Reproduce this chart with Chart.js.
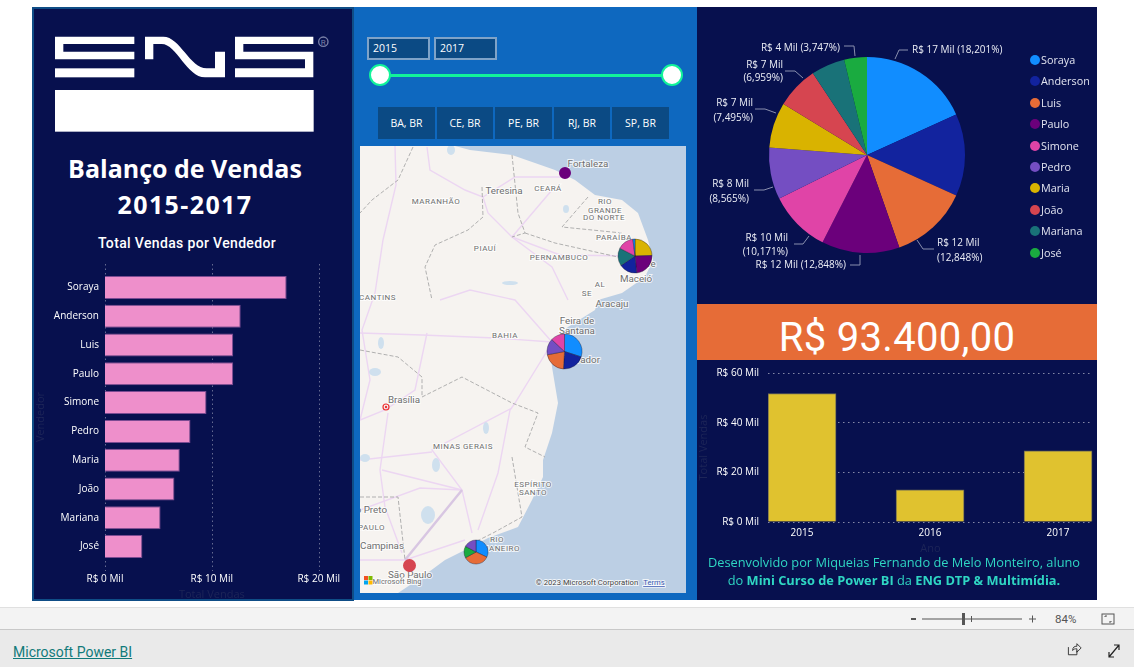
<!DOCTYPE html>
<html lang="pt-BR">
<head>
<meta charset="UTF-8">
<title>Balanço de Vendas 2015-2017</title>
<script src="https://cdn.jsdelivr.net/npm/chart.js"></script>
<style>
  html, body { margin: 0; padding: 0; background: #fff; overflow: hidden; }
  body { width: 1134px; height: 667px; position: relative; font-family: "Open Sans", sans-serif; }
  .abs, canvas.abs { position: absolute; }
  .panel { position: absolute; top: 7px; height: 593px; }
  #pLeft { left: 32px; width: 318px; background: #07104e; border: 2px solid #0f4d86; height: 590px; }
  #pMid { left: 354px; width: 343px; background: #0e68bf; }
  #pRight { left: 697px; width: 400px; background: #07104e; }
  .title { left: 32px; width: 306px; text-align: center; color: #fff; font-weight: 700; font-size: 25px; }
  .sub { left: 32px; width: 310px; top: 235px; text-align: center; color: #fff; font: 500 14px Roboto; letter-spacing: .35px; }
  .yearBox { top: 37px; width: 59px; height: 19px; background: #0b4a84; border: 2px solid #7fa3c8; color: #fff; font-size: 10.5px; font-weight: 400; line-height: 19px; text-indent: 4px; }
  .state { top: 107px; height: 32px; background: #0b4a84; color: #fff; font-size: 10.5px; line-height: 32px; text-align: center; font-weight: 400; }
  .handle { top: 64px; width: 18px; height: 18px; border-radius: 50%; background: #fff; border: 2px solid #12f39a; }
  #map { left: 360px; top: 146px; }
  #kpi { left: 697px; top: 304px; width: 400px; height: 56px; background: #e66c37; color: #fff; font: 400 40px/68px Roboto; text-align: center; letter-spacing: .3px; }
  #legend { left: 1030px; top: 49px; color: #e2e4f0; font-size: 10.8px; }
  #legend div { height: 21.4px; line-height: 21.4px; white-space: nowrap; }
  #legend i { display: inline-block; width: 10px; height: 10px; border-radius: 50%; margin-right: 1px; vertical-align: -1px; }
  #credit { left: 697px; top: 554px; width: 394px; text-align: center; color: #2fd6c3; font-size: 12.8px; line-height: 17.5px; }
  #credit b { font-weight: 700; }
  #bar1 { left: 0; top: 607px; width: 1134px; height: 23px; background: #f3f3f3; border-top: 1px solid #e0e0e0; border-bottom: 1px solid #c8c8c8; box-sizing: border-box; }
  #bar2 { left: 0; top: 630px; width: 1134px; height: 37px; background: #eaeaea; }
  #pbi { left: 13px; top: 644px; font: 400 14px Roboto; color: #117a7a; text-decoration: underline; }
  .mapT { font-family: Roboto; fill: #6f6f6f; paint-order: stroke; stroke: rgba(255,255,255,.75); stroke-width: 2px; text-anchor: middle; }
  .st { font-size: 8px; letter-spacing: .5px; }
  .ct { font-size: 9.8px; }
</style>
</head>
<body>
<div class="panel" id="pLeft"></div>
<div class="panel" id="pMid"></div>
<div class="panel" id="pRight"></div>

<svg class="abs" style="left:30px;top:0" width="330" height="140" viewBox="0 0 990 420">
  <g fill="#fff">
    <path d="M75 110H313V132H100V155H313V178H75Z"/>
    <rect x="75" y="205" width="238" height="27"/>
    <path d="M345 178V110H400C450 110 480 205 530 205H555V155H585V232H525C470 232 440 132 395 132H370V178Z"/>
    <path d="M615 110H850V132H640V155H850V232H615V205H825V178H615Z"/>
    <rect x="75" y="270" width="776" height="125"/>
  </g>
  <circle cx="880" cy="125" r="14" fill="none" stroke="#7a80a8" stroke-width="4"/>
  <text x="880" y="134" font-size="24" fill="#7a80a8" text-anchor="middle" font-family="Roboto">R</text>
</svg>
<div class="abs title" style="top:151px">Balanço de Vendas</div>
<div class="abs title" style="top:187px;letter-spacing:1.4px">2015-2017</div>
<div class="abs sub">Total Vendas por Vendedor</div>
<canvas class="abs" id="vendedorChart" width="318" height="346" style="left:34px;top:255px"></canvas>

<div class="abs yearBox" style="left:367px">2015</div>
<div class="abs yearBox" style="left:434px">2017</div>
<div class="abs" style="left:380px;top:74px;width:292px;height:3px;background:#12f39a"></div>
<div class="abs handle" style="left:369px"></div>
<div class="abs handle" style="left:661px"></div>
<div class="abs state" style="left:378px;width:57px">BA, BR</div>
<div class="abs state" style="left:437px;width:56px">CE, BR</div>
<div class="abs state" style="left:495px;width:57px">PE, BR</div>
<div class="abs state" style="left:554px;width:56px">RJ, BR</div>
<div class="abs state" style="left:612px;width:57px">SP, BR</div>

<svg class="abs" id="map" width="326" height="447" viewBox="360 146 326 447">
  <rect x="360" y="146" width="326" height="447" fill="#bccfe4"/>
  <path fill="#f6f3f0" d="M360 146H455L470 150L512 155L535 163L555 170L575 180L595 195L622 200L638 213L648 240L653 260L645 277L622 293L598 300L595 310L568 327L550 343L552 367L558 403L552 433L543 460L543 477L532 500L518 527L488 538L465 550L445 560L422 577L398 593H360Z"/>
  <g fill="none" stroke="#ecd6f2" stroke-width="1.4">
    <path d="M395 146L396 185L383 240L375 293"/>
    <path d="M427 147L430 170L465 190L483 197L488 213L512 237L552 267L568 300"/>
    <path d="M562 177H515L483 197"/>
    <path d="M552 190L512 237L560 255L634 256"/>
    <path d="M360 333L422 335L495 338L552 342"/>
    <path d="M427 333L415 390L385 410L360 420"/>
    <path d="M388 413L380 470L385 507L402 553"/>
    <path d="M552 343L515 403L510 410L498 473L478 530"/>
    <path d="M512 408L432 450L462 490L472 533"/>
    <path d="M360 460L432 452"/>
    <path d="M382 470L462 490"/>
    <path d="M360 510L420 488L462 490"/>
    <path d="M360 560L405 560L465 540"/>
    <path d="M375 293L362 330L370 380L360 420"/>
    <path d="M440 300L470 290L515 300L552 342"/>
    <path d="M462 490L405 560" stroke="#d8c6e2" stroke-width="2.4"/>
  </g>
  <g fill="none" stroke="#a8a8a8" stroke-width=".9" stroke-dasharray="4 2">
    <path d="M413 147L398 180L372 200L360 213"/>
    <path d="M512 155L518 213L525 233L512 237"/>
    <path d="M482 187L483 217L468 230L435 245L425 267L432 300"/>
    <path d="M525 233L555 243L618 257"/>
    <path d="M588 197L562 227L622 233"/>
    <path d="M422 397L462 377L512 403L538 413L525 447L545 457"/>
    <path d="M512 457L522 517L493 533L465 547"/>
    <path d="M360 497H398L405 560"/>
    <path d="M360 350L398 357L422 377L422 397"/>
  </g>
  <g fill="#cfe0ee">
    <ellipse cx="451" cy="150" rx="4" ry="5"/><ellipse cx="381" cy="343" rx="3" ry="6"/><ellipse cx="375" cy="372" rx="6" ry="4"/>
    <ellipse cx="436" cy="465" rx="4" ry="7"/><ellipse cx="428" cy="515" rx="7" ry="9"/><ellipse cx="486" cy="428" rx="3" ry="6"/>
    <ellipse cx="365" cy="458" rx="5" ry="4"/><ellipse cx="566" cy="209" rx="3" ry="4"/><ellipse cx="510" cy="283" rx="8" ry="2"/>
  </g>
  <circle cx="386" cy="407" r="3" fill="none" stroke="#e33" stroke-width="1.2"/><circle cx="386" cy="407" r="1.2" fill="#e33"/>
  <g class="mapT">
    <text class="mapT ct" x="588" y="167">Fortaleza</text>
    <text class="mapT ct" x="504" y="194">Teresina</text>
    <text class="mapT st" x="548" y="191">CEARÁ</text>
    <text class="mapT st" x="436" y="204">MARANHÃO</text>
    <text class="mapT st" x="605" y="204">RIO</text>
    <text class="mapT st" x="605" y="213">GRANDE</text>
    <text class="mapT st" x="604" y="220">DO NORTE</text>
    <text class="mapT st" x="485" y="251">PIAUÍ</text>
    <text class="mapT st" x="614" y="240">PARAÍBA</text>
    <text class="mapT st" x="559" y="260">PERNAMBUCO</text>
    <text class="mapT ct" x="642" y="267">Recife</text>
    <text class="mapT ct" x="636" y="282">Maceió</text>
    <text class="mapT st" x="600" y="287">AL</text>
    <text class="mapT st" x="587" y="296">SE</text>
    <text class="mapT st" x="372" y="300">TOCANTINS</text>
    <text class="mapT ct" x="612" y="307">Aracaju</text>
    <text class="mapT ct" x="577" y="324">Feira de</text>
    <text class="mapT ct" x="577" y="334">Santana</text>
    <text class="mapT st" x="505" y="338">BAHIA</text>
    <text class="mapT ct" x="581" y="363">Salvador</text>
    <text class="mapT ct" x="404" y="403">Brasília</text>
    <text class="mapT st" x="463" y="449">MINAS GERAIS</text>
    <text class="mapT st" x="533" y="487">ESPÍRITO</text>
    <text class="mapT st" x="533" y="495">SANTO</text>
    <text class="mapT ct" x="387" y="513" style="text-anchor:end">São José do Rio Preto</text>
    <text class="mapT st" x="385" y="530" style="text-anchor:end">SÃO PAULO</text>
    <text class="mapT ct" x="382" y="549">Campinas</text>
    <text class="mapT st" x="497" y="542">RIO</text>
    <text class="mapT st" x="520" y="551" style="text-anchor:end">DE JANEIRO</text>
    <text class="mapT ct" x="410" y="578">São Paulo</text>
    <text class="mapT" x="397" y="584" style="font-size:7.5px">Microsoft Bing</text>
    <text class="mapT" x="587" y="585" style="font-size:7.7px;fill:#444">© 2023 Microsoft Corporation</text>
    <text class="mapT" x="654" y="585" style="font-size:7.7px;fill:#3a58b0;text-decoration:underline">Terms</text>
  </g>
  <rect x="364" y="576" width="4" height="4" fill="#f25022"/><rect x="368.500" y="576" width="4" height="4" fill="#7fba00"/>
  <rect x="364" y="580.500" width="4" height="4" fill="#00a4ef"/><rect x="368.500" y="580.500" width="4" height="4" fill="#ffb900"/>
</svg>
<canvas class="abs" id="mapChart" width="326" height="447" style="left:360px;top:146px"></canvas>

<canvas class="abs" id="pieChart" width="340" height="260" style="left:697px;top:25px"></canvas>
<div class="abs" id="legend"></div>
<div class="abs" id="kpi">R$ 93.400,00</div>
<canvas class="abs" id="anoChart" width="400" height="197" style="left:697px;top:358px"></canvas>
<div class="abs" id="credit">Desenvolvido por Miqueias Fernando de Melo Monteiro, aluno<br>do <b>Mini Curso de Power BI</b> da <b>ENG DTP &amp; Multimídia.</b></div>

<div class="abs" id="bar1"></div>
<div class="abs" id="bar2"></div>
<div class="abs" id="pbi">Microsoft Power BI</div>
<svg class="abs" style="left:905px;top:610px" width="220" height="18">
  <rect x="6" y="8" width="5" height="2" fill="#555"/>
  <rect x="17" y="8.500" width="100" height="1" fill="#555"/>
  <rect x="57" y="3" width="3" height="12" fill="#555"/>
  <rect x="66" y="6" width="1" height="6" fill="#555"/>
  <path d="M124 9h7M127.500 5.500v7" stroke="#555" fill="none"/>
  <text x="150" y="13" font-family="Roboto" font-size="11.500" fill="#555">84%</text>
  <rect x="197" y="4" width="12" height="10" fill="none" stroke="#555"/>
  <path d="M200 7v-1h2M206 11v1h-2" stroke="#555" fill="none"/>
</svg>
<svg class="abs" style="left:1065px;top:642px" width="60" height="18">
  <path d="M4 6v9h10v-5M9 10c0-4 2-5 5-5V2l5 5-5 5V8c-2 0-4 0-5 2z" fill="none" stroke="#222" transform="scale(.85)"/>
  <path d="M44 15L54 3M49 3h5v5M44 10v5h5" fill="none" stroke="#222" stroke-width="1.200"/>
</svg>

<script>
const vendedores = ['Soraya', 'Anderson', 'Luis', 'Paulo', 'Simone', 'Pedro', 'Maria', 'João', 'Mariana', 'José'];
const totalVendas = [17, 12.7, 12, 12, 9.5, 8, 7, 6.5, 5.2, 3.5];
const cores = ['#118dff', '#12239e', '#e66c37', '#6b007b', '#e044a7', '#744ec2', '#d9b300', '#d64550', '#197278', '#1aab40'];

const anos = [2015, 2016, 2017];
const vendasAno = [51.7, 13, 28.7];

const cidades = ['Fortaleza', 'Recife', 'Salvador', 'Rio de Janeiro', 'São Paulo'];
const cidadeLon = [-38.5, -34.9, -38.5, -43.1, -46.5];
const cidadeLat = [-3.7, -7.99, -12.94, -23.36, -24.03];
const cidadeRaio = [6, 17, 17.5, 12, 6.5];
const fortalezaVend = ['Paulo'];
const fortalezaVal = [1];
const recifeVend = ['Maria', 'Paulo', 'Anderson', 'Mariana', 'Simone', 'Soraya'];
const recifeVal = [24.5, 24, 17, 17, 15.5, 2];
const salvadorVend = ['Soraya', 'Anderson', 'Luis', 'Pedro', 'Simone'];
const salvadorVal = [30, 21, 21, 15, 13];
const rioVend = ['Soraya', 'Luis', 'José', 'Pedro'];
const rioVal = [32, 35, 16, 17];
const spVend = ['João'];
const spVal = [1];

const fonte = '"Open Sans"';
const mil = v => 'R$ ' + v + ' Mil';
const soma = totalVendas.reduce((a, b) => a + b, 0);

// grade pontilhada um pouco maior que a area do grafico
const gradeX = {
  id: 'gradeX',
  beforeDatasetsDraw(chart) {
    const { ctx, chartArea, scales } = chart;
    ctx.save();
    ctx.strokeStyle = 'rgba(255,255,255,.38)';
    ctx.setLineDash([1.5, 3]);
    scales.x.ticks.forEach(t => {
      const px = Math.round(scales.x.getPixelForValue(t.value)) + .5;
      ctx.beginPath();
      ctx.moveTo(px, chartArea.top - 9);
      ctx.lineTo(px, chartArea.bottom + 10);
      ctx.stroke();
    });
    ctx.restore();
  }
};

new Chart(document.getElementById('vendedorChart'), {
  type: 'bar',
  data: {
    labels: vendedores,
    datasets: [{
      data: totalVendas,
      backgroundColor: '#ee8fcb',
      borderColor: '#7b4b92',
      borderWidth: 1,
      barPercentage: .8,
      categoryPercentage: 1
    }]
  },
  plugins: [gradeX],
  options: {
    indexAxis: 'y',
    responsive: false,
    animation: false,
    layout: { padding: { top: 18, right: 31 } },
    plugins: { legend: { display: false }, tooltip: { enabled: false } },
    scales: {
      x: {
        min: 0, max: 20,
        afterFit: s => { s.height = 40; },
        grid: { display: false, drawTicks: false },
        border: { display: false },
        ticks: { stepSize: 10, color: '#fff', padding: 12, maxRotation: 0, font: { family: fonte, size: 10 }, callback: mil },
        title: { display: true, text: 'Total Vendas', color: '#1d2558', padding: 0, font: { family: fonte, size: 11 } }
      },
      y: {
        afterFit: s => { s.width = 71; },
        grid: { display: false, drawTicks: false },
        border: { display: false },
        ticks: { color: '#fff', padding: 6, autoSkip: false, font: { family: fonte, size: 10 } },
        title: { display: true, text: 'Vendedor', color: '#1d2558', padding: 0, font: { family: fonte, size: 11 } }
      }
    }
  }
});

// rotulos da pizza com linha guia, posicoes relativas ao centro
const guias = {
  Soraya: { p: [[28, -96], [32, -105], [41, -105]], x: 45, y: [-105], a: 'left' },
  Luis: { p: [[50, 85], [56, 94], [67, 94]], x: 70, y: [88, 103], a: 'left' },
  Paulo: { p: [[-7, 100], [-7, 110], [-17, 110]], x: -21, y: [110], a: 'right' },
  Simone: { p: [[-58, 81], [-64, 89], [-73, 89]], x: -79, y: [83, 97], a: 'right' },
  Pedro: { p: [[-94, 32], [-103, 35], [-113, 35]], x: -118, y: [29, 44], a: 'right' },
  Maria: { p: [[-91, -42], [-102, -46], [-112, -46]], x: -114, y: [-52, -37], a: 'right' },
  'João': { p: [[-64, -77], [-72, -84], [-82, -84]], x: -84, y: [-90, -77], a: 'right' },
  'José': { p: [[-12, -99], [-13, -109], [-23, -109]], x: -27, y: [-107], a: 'right' }
};

const rotulosPizza = {
  id: 'rotulosPizza',
  afterDatasetsDraw(chart) {
    const { ctx } = chart;
    const arco = chart.getDatasetMeta(0).data[0];
    ctx.save();
    ctx.font = '10px ' + fonte;
    ctx.textBaseline = 'middle';
    vendedores.forEach((nome, i) => {
      const g = guias[nome];
      if (!g) return;
      ctx.strokeStyle = '#8a8fae';
      ctx.lineWidth = 1;
      ctx.beginPath();
      g.p.forEach((pt, k) => ctx[k ? 'lineTo' : 'moveTo'](arco.x + pt[0], arco.y + pt[1]));
      ctx.stroke();
      const valor = mil(Math.round(totalVendas[i]));
      const pct = '(' + (totalVendas[i] / soma * 100).toFixed(3).replace('.', ',') + '%)';
      const linhas = g.y.length > 1 ? [valor, pct] : [valor + ' ' + pct];
      ctx.fillStyle = '#eceef6';
      ctx.textAlign = g.a;
      linhas.forEach((t, k) => ctx.fillText(t, arco.x + g.x, arco.y + g.y[k]));
    });
    ctx.restore();
  }
};

new Chart(document.getElementById('pieChart'), {
  type: 'pie',
  data: {
    labels: vendedores,
    datasets: [{ data: totalVendas, backgroundColor: cores, borderWidth: 0, radius: 98 }]
  },
  plugins: [rotulosPizza],
  options: {
    responsive: false,
    animation: false,
    plugins: { legend: { display: false }, tooltip: { enabled: false } }
  }
});

document.getElementById('legend').innerHTML = vendedores
  .map((n, i) => '<div><i style="background:' + cores[i] + '"></i>' + n + '</div>').join('');

new Chart(document.getElementById('anoChart'), {
  type: 'bar',
  data: {
    datasets: [{
      data: anos.map((a, i) => ({ x: a, y: vendasAno[i] })),
      backgroundColor: '#e0c22f',
      borderColor: '#6e6a55',
      borderWidth: 1,
      barThickness: 68
    }]
  },
  options: {
    responsive: false,
    animation: false,
    layout: { padding: { top: 7, right: 4 } },
    plugins: { legend: { display: false }, tooltip: { enabled: false } },
    scales: {
      x: {
        type: 'linear',
        offset: false,
        min: 2014.734, max: 2017.273,
        afterFit: s => { s.height = 33; },
        grid: { display: false, drawTicks: false },
        border: { display: false },
        ticks: { stepSize: 1, includeBounds: false, color: '#fff', padding: 5, maxRotation: 0, font: { family: fonte, size: 10 }, callback: v => String(v) },
        title: { display: true, text: 'Ano', color: '#1d2558', padding: 0, font: { family: fonte, size: 11 } }
      },
      y: {
        min: 0, max: 60,
        afterFit: s => { s.width = 71; },
        grid: { color: 'rgba(255,255,255,.5)', drawTicks: false },
        border: { display: false, dash: [1.5, 3.5] },
        ticks: { stepSize: 20, color: '#fff', padding: 9, font: { family: fonte, size: 10 }, callback: mil },
        title: { display: true, text: 'Total Vendas', color: '#1d2558', padding: 0, font: { family: fonte, size: 11 } }
      }
    }
  }
});

// mapa: eixo lon/lat escondido, cada cidade recebe uma pizza pequena
const mapa = new Chart(document.getElementById('mapChart'), {
  type: 'scatter',
  data: {
    datasets: [{ data: cidades.map((c, i) => ({ x: cidadeLon[i], y: cidadeLat[i] })), pointRadius: 0 }]
  },
  options: {
    responsive: false,
    animation: false,
    layout: { padding: 0 },
    plugins: { legend: { display: false }, tooltip: { enabled: false } },
    scales: {
      x: { display: false, min: -49.07, max: -32.26 },
      y: { display: false, min: -25.46, max: -2.30 }
    }
  }
});

[[fortalezaVend, fortalezaVal], [recifeVend, recifeVal], [salvadorVend, salvadorVal], [rioVend, rioVal], [spVend, spVal]].forEach((c, i) => {
  const r = cidadeRaio[i];
  const lado = 2 * r + 4;
  const tela = document.createElement('canvas');
  tela.width = lado;
  tela.height = lado;
  tela.className = 'abs';
  tela.style.left = 360 + mapa.scales.x.getPixelForValue(cidadeLon[i]) - lado / 2 + 'px';
  tela.style.top = 146 + mapa.scales.y.getPixelForValue(cidadeLat[i]) - lado / 2 + 'px';
  document.body.appendChild(tela);
  new Chart(tela, {
    type: 'pie',
    data: {
      labels: c[0],
      datasets: [{
        data: c[1],
        backgroundColor: c[0].map(n => cores[vendedores.indexOf(n)]),
        borderColor: 'rgba(20,20,40,.6)',
        borderWidth: c[1].length > 1 ? .6 : 0,
        radius: r
      }]
    },
    options: {
      responsive: false,
      animation: false,
      plugins: { legend: { display: false }, tooltip: { enabled: false } }
    }
  });
});
</script>
</body>
</html>
